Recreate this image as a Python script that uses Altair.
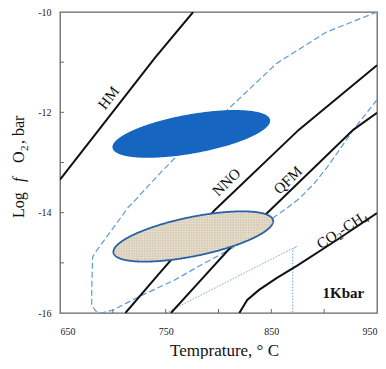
import altair as alt
import numpy as np
import pandas as pd

# ---------------- data ----------------
T_DOMAIN = [650, 950]
F_DOMAIN = [-16, -10]
x_label_values = [650, 750, 850, 950]
y_label_values = [-16, -14, -12, -10]
x_minor_ticks = [700, 750, 800, 850, 900]
y_minor_ticks = [-15, -14, -13, -12, -11]

# buffer curves
hm_T = [650.0, 700.0, 740.0, 776.0]
hm_f = [-13.34, -11.99, -10.91, -10.0]
nno_T = [711.9, 742.8, 796.3, 875.9, 950.0]
nno_f = [-16.0, -15.24, -13.95, -12.35, -11.06]
qfm_T = [755.0, 787.8, 815.0, 848.8, 927.5, 950.0]
qfm_f = [-16.0, -15.24, -14.61, -13.95, -12.35, -12.01]
co2_T = [819.7, 827.2, 838.4, 855.3, 874.1, 911.6, 950.0]
co2_f = [-16.0, -15.74, -15.54, -15.30, -15.06, -14.55, -14.01]

# dashed envelope
env_T = [950.0, 902.2, 855.3, 808.4, 758.8, 747.5, 731.6, 721.3, 714.7, 683.8,
         680.9, 680.0, 680.0, 683.8, 689.4, 700.6, 724.1, 758.8, 780.3, 817.8,
         852.5, 864.7, 876.9, 890.9, 902.2, 914.4, 927.5, 950.0]
env_f = [-10.0, -10.40, -11.02, -11.95, -12.91, -13.15, -13.51, -13.75, -13.89, -14.78,
         -14.88, -15.54, -15.84, -15.96, -16.0, -15.94, -15.68, -15.34, -15.08, -14.65,
         -14.09, -13.91, -13.71, -13.41, -13.11, -12.75, -12.35, -11.75]

# dotted path
dot_T = [750.3, 874.1, 870.3, 870.3]
dot_f = [-16.0, -14.67, -14.74, -16.0]

# ellipses: major-axis ends and minor/major ratio
blue_ends_T = [699.7, 848.8]
blue_ends_f = [-12.71, -12.15]
blue_ratio = 0.245
beige_ends_T = [700.6, 851.6]
beige_ends_f = [-14.80, -14.15]
beige_ratio = 0.24

# curve labels
label_text = ["HM", "NNO", "QFM"]
label_T = [695.9, 807.5, 865.6]
label_f = [-11.71, -13.39, -13.35]
label_angle = [308, 316, 316]

W, H = 317, 301
sx = W / (T_DOMAIN[1] - T_DOMAIN[0])
sy = H / (F_DOMAIN[1] - F_DOMAIN[0])


def ellipse_geom(ends_T, ends_f, ratio):
    X1, X2 = [(t - T_DOMAIN[0]) * sx for t in ends_T]
    Y1, Y2 = [(f - F_DOMAIN[0]) * sy for f in ends_f]
    cx, cy = (X1 + X2) / 2, (Y1 + Y2) / 2
    a = np.hypot(X2 - X1, Y2 - Y1) / 2
    b = ratio * a
    th = np.arctan2(Y2 - Y1, X2 - X1)
    return cx, cy, a, b, np.cos(th), np.sin(th)


def chords(u, a, b, c, s, along_x=True):
    # for offsets u along one screen axis, the interval on the other axis
    if along_x:
        A = s**2 / a**2 + c**2 / b**2
        B = 2 * u * c * s * (1 / a**2 - 1 / b**2)
        Cq = u**2 * (c**2 / a**2 + s**2 / b**2) - 1
    else:
        A = c**2 / a**2 + s**2 / b**2
        B = 2 * u * c * s * (1 / a**2 - 1 / b**2)
        Cq = u**2 * (s**2 / a**2 + c**2 / b**2) - 1
    disc = np.clip(B**2 - 4 * A * Cq, 0, None)
    return (-B - np.sqrt(disc)) / (2 * A), (-B + np.sqrt(disc)) / (2 * A)


def ellipse_band(ends_T, ends_f, ratio, n=240):
    cx, cy, a, b, c, s = ellipse_geom(ends_T, ends_f, ratio)
    Wx = np.sqrt(a**2 * c**2 + b**2 * s**2)
    dx = Wx * np.cos(np.linspace(np.pi, 0, n))
    lo, hi = chords(dx, a, b, c, s, True)
    return pd.DataFrame({
        "T": T_DOMAIN[0] + (cx + dx) / sx,
        "lo": F_DOMAIN[0] + (cy + lo) / sy,
        "hi": F_DOMAIN[0] + (cy + hi) / sy,
    })


def ellipse_weave(ends_T, ends_f, ratio, step=2.6):
    cx, cy, a, b, c, s = ellipse_geom(ends_T, ends_f, ratio)
    Wx = np.sqrt(a**2 * c**2 + b**2 * s**2) - 1.5
    Hy = np.sqrt(a**2 * s**2 + b**2 * c**2) - 1.5
    dx = np.arange(-Wx, Wx, step)
    lo, hi = chords(dx, a, b, c, s, True)
    vert = pd.DataFrame({"T": T_DOMAIN[0] + (cx + dx) / sx, "T2": T_DOMAIN[0] + (cx + dx) / sx,
                         "f": F_DOMAIN[0] + (cy + lo + 1) / sy, "f2": F_DOMAIN[0] + (cy + hi - 1) / sy})
    dy = np.arange(-Hy, Hy, step)
    l2, h2 = chords(dy, a, b, c, s, False)
    horiz = pd.DataFrame({"T": T_DOMAIN[0] + (cx + l2 + 1.5) / sx, "T2": T_DOMAIN[0] + (cx + h2 - 1.5) / sx,
                          "f": F_DOMAIN[0] + (cy + dy) / sy, "f2": F_DOMAIN[0] + (cy + dy) / sy})
    return pd.concat([vert, horiz])


def path_df(Ts, fs, name):
    return pd.DataFrame({"T": Ts, "f": fs, "curve": name, "i": range(len(Ts))})


curves = pd.concat([
    path_df(hm_T, hm_f, "HM"),
    path_df(nno_T, nno_f, "NNO"),
    path_df(qfm_T, qfm_f, "QFM"),
    path_df(co2_T, co2_f, "CO2"),
])
env = path_df(env_T, env_f, "env")
dots = path_df(dot_T, dot_f, "dot")
blue_df = ellipse_band(blue_ends_T, blue_ends_f, blue_ratio)
beige_df = ellipse_band(beige_ends_T, beige_ends_f, beige_ratio)
weave_df = ellipse_weave(beige_ends_T, beige_ends_f, beige_ratio)

FONT = "Liberation Serif"
INK = "#111111"

xs = alt.Scale(domain=T_DOMAIN, nice=False, zero=False)
ys = alt.Scale(domain=F_DOMAIN, nice=False, zero=False)

x_axis = alt.Axis(values=x_label_values, title="Temprature, \u00b0 C", titleX=164, titleY=37,
                  titleBaseline="middle", titleAlign="center")
y_axis = alt.Axis(values=y_label_values, title=None,
                  labelExpr="'-' + abs(datum.value)")

base_x = alt.X("T:Q", scale=xs, axis=x_axis)
base_y = alt.Y("f:Q", scale=ys, axis=y_axis)

env_layer = alt.Chart(env).mark_line(color="#5B9BD5", strokeWidth=1.2, strokeDash=[6, 3], clip=True).encode(
    x=base_x, y=base_y, order="i:Q")
dot_layer = alt.Chart(dots).mark_line(color="#6AA6DE", strokeWidth=1, strokeDash=[1.5, 1.5], clip=True).encode(
    x="T:Q", y="f:Q", order="i:Q")
curve_layer = alt.Chart(curves).mark_line(color=INK, strokeWidth=2, clip=True).encode(
    x="T:Q", y="f:Q", detail="curve:N", order="i:Q")
blue_layer = alt.Chart(blue_df).mark_area(color="#1565C1", opacity=1, interpolate="linear").encode(
    x="T:Q", y="lo:Q", y2="hi:Q")
beige_layer = alt.Chart(beige_df).mark_area(fill="#D6CAB3", opacity=1, interpolate="linear").encode(
    x="T:Q", y="lo:Q", y2="hi:Q")
weave_layer = alt.Chart(weave_df).mark_rule(color="#F4EEE4", strokeWidth=0.8, opacity=0.55).encode(
    x="T:Q", x2="T2:Q", y="f:Q", y2="f2:Q")
beige_edge = alt.Chart(beige_df).mark_area(fill=None, fillOpacity=0, stroke="#2A62A8", strokeWidth=1.8,
                                           interpolate="linear").encode(
    x="T:Q", y="lo:Q", y2="hi:Q")

xt = pd.DataFrame({"t": x_minor_ticks})
yt = pd.DataFrame({"v": y_minor_ticks})
xtick_layer = alt.Chart(xt).mark_rule(color="#6b6b6b", strokeWidth=1).encode(
    x="t:Q", y=alt.value(H), y2=alt.value(H - 4))
ytick_layer = alt.Chart(yt).mark_rule(color="#6b6b6b", strokeWidth=1).encode(
    y="v:Q", x=alt.value(0), x2=alt.value(4))

label_layers = [
    alt.Chart(pd.DataFrame({"text": [label_text[k]], "T": [label_T[k]], "f": [label_f[k]]}))
    .mark_text(font=FONT, fontSize=15, color=INK, angle=label_angle[k])
    .encode(x="T:Q", y="f:Q", text="text:N")
    for k in range(len(label_text))
]

# CO2-CH4 label built from pieces so that the subscripts render
co2_anchor = pd.DataFrame({"T": [894.2], "f": [-14.65]})
co2_pieces = [("CO", 0, 0, 15), ("2", 21, 5, 10), ("-CH", 26, 0, 15), ("4", 51.8, 5, 10)]
co2_layers = [
    alt.Chart(co2_anchor).mark_text(text=t, font=FONT, fontSize=fs, color=INK, angle=327,
                                    align="left", baseline="middle", dx=dx, dy=dy)
    .encode(x="T:Q", y="f:Q")
    for (t, dx, dy, fs) in co2_pieces
]

kbar = alt.Chart(pd.DataFrame({"text": ["1Kbar"], "T": [918.1], "f": [-15.60]})).mark_text(
    font=FONT, fontSize=15, fontWeight="bold", color=INK).encode(x="T:Q", y="f:Q", text="text:N")

# y-axis title "Log f O2 , bar" (italic f, subscript 2), reading bottom to top
ytitle_pieces = [("Log", 206, 0, 16, "normal"), ("f", 170, 0, 16, "italic"),
                 ("O", 151, 0, 16, "normal"), ("2", 139, 4, 11, "normal"),
                 (",  bar", 132, 0, 16, "normal")]
ytitle_layers = [
    alt.Chart(co2_anchor).mark_text(text=t, font=FONT, fontSize=fs, fontStyle=st, color=INK,
                                    angle=270, align="left", baseline="alphabetic", dy=dy)
    .encode(x=alt.value(-36), y=alt.value(y))
    for (t, y, dy, fs, st) in ytitle_pieces
]

chart = alt.layer(
    env_layer, dot_layer, curve_layer, blue_layer, beige_layer, weave_layer, beige_edge,
    xtick_layer, ytick_layer, *label_layers, *co2_layers, kbar, *ytitle_layers
).properties(
    width=W, height=H,
    autosize=alt.AutoSizeParams(type="none"),
    padding={"left": 52, "top": 4, "right": 1, "bottom": 46},
).configure_view(
    stroke="#666666", strokeWidth=1.3
).configure_axis(
    domain=False, grid=False, ticks=False, tickSize=0,
    labelFont=FONT, labelFontSize=10, labelColor="#222222",
    titleFont=FONT, titleFontSize=17, titleFontWeight="normal", titleColor=INK,
).configure_axisX(labelPadding=13).configure_axisY(labelPadding=9)

chart.save("out.html", embed_options={"renderer": "svg", "actions": False})
